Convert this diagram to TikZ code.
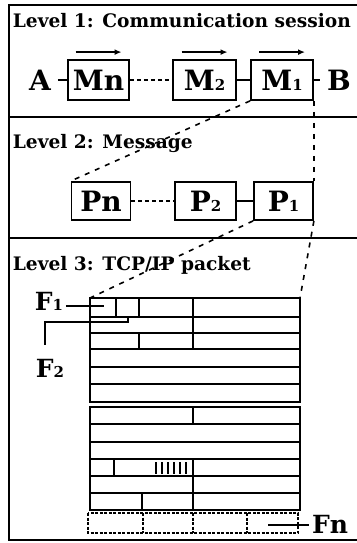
\documentclass[tikz,border=0pt]{standalone}
\usepackage{fontspec}
\setmainfont{DejaVu Serif}
\usetikzlibrary{arrows.meta}
\newcommand\lowidx[1]{{\fontsize{15}{15}\selectfont#1}}
\begin{document}
\begin{tikzpicture}[x=1pt,y=-1pt,font=\bfseries,line width=1.8pt]
\tikzset{lvl/.style={anchor=base west,inner sep=0pt,font=\bfseries\fontsize{18.6}{19}\selectfont},
 msg/.style={draw,line width=1.8pt,minimum width=62pt,minimum height=40pt,inner sep=0pt,font=\bfseries\fontsize{28}{28}\selectfont},
 pkt/.style={msg,minimum width=59pt,minimum height=38pt},
 big/.style={inner xsep=6pt,inner ysep=0pt,font=\bfseries\fontsize{28}{28}\selectfont},
 fld/.style={inner sep=2pt,font=\bfseries\fontsize{25}{25}\selectfont},
 link/.style={line width=1.6pt},
 gap/.style={line width=1.6pt,dash pattern=on 4pt off 3pt},
 zoomline/.style={line width=1.6pt,dash pattern=on 5pt off 6pt},
 dir/.style={line width=1.6pt,-{Latex[length=7pt,width=6pt]}},
 grid/.style={line width=1.8pt},
 tail/.style={line width=1.4pt,dash pattern=on 3pt off 1.5pt}}
\useasboundingbox (0,0) rectangle (356,543);
\draw[line width=1.8pt] (358,5) -- (9,5) -- (9,540) -- (358,540);
\draw[line width=1.8pt] (9,117) -- (358,117) (9,238) -- (358,238);
\node[lvl] (l1) at (12,28) {Level 1: Communication session};
\node[lvl] (l2) at (12,148) {Level 2: Message};
\node[lvl] (l3) at (12,270) {Level 3: TCP/IP packet};
\node[big] (a) at (40,80) {A};
\node[msg,minimum width=61pt] (mn) at (98.5,80) {Mn};
\node[msg,minimum width=63pt] (m2) at (204.5,80) {M\lowidx{2}};
\node[msg] (m1) at (282,80) {M\lowidx{1}};
\node[big] (b) at (339,80) {B};
\foreach \b in {mn,m2,m1} \draw[dir] ([shift={(-23pt,7pt)}]\b.north) -- ([shift={(23pt,7pt)}]\b.north);
\draw[link] (a) -- (mn);
\draw[gap] (mn) -- (m2);
\draw[link] (m2) -- (m1);
\draw[link] (m1) -- (b);
\node[pkt] (pn) at (101,201) {Pn};
\node[pkt,minimum width=61pt] (p2) at (205.5,201) {P\lowidx{2}};
\node[pkt] (p1) at (283.5,201) {P\lowidx{1}};
\draw[gap] (pn) -- (p2);
\draw[link] (p2) -- (p1);
\coordinate (tnw) at (90,298);
\coordinate (tne) at (300,298);
\draw[zoomline] (m1.south west) -- (pn.north west);
\draw[zoomline] (m1.south east) -- (p1.north east);
\draw[zoomline] (p1.south west) -- (tnw);
\draw[zoomline] (p1.south east) -- (tne);
\draw[grid] (tnw) rectangle (300,402);
\foreach \y in {317,333,349,367,384} \draw[grid] (90,\y) -- (300,\y);
\draw[grid] (116,298) -- (116,317) (139,298) -- (139,317) (139,333) -- (139,349) (193,298) -- (193,349);
\draw[grid] (90,407) rectangle (300,510);
\foreach \y in {424,442,459,476,493} \draw[grid] (90,\y) -- (300,\y);
\draw[grid] (193,407) -- (193,424) (114,459) -- (114,476) (193,459) -- (193,510) (142,493) -- (142,510);
\foreach \x in {156,162,...,186} \draw[line width=1.4pt] (\x,462) -- (\x,474);
\draw[tail] (88,513) rectangle (298,533);
\foreach \x in {143,193,247} \draw[tail] (\x,513) -- (\x,533);
\node[fld] (f1) at (49,301) {F\lowidx{1}};
\node[fld] (f2) at (50,368) {F\lowidx{2}};
\node[fld] (fn) at (330,524) {Fn};
\coordinate (f1end) at (104,306);
\coordinate (f2end) at (128,317);
\coordinate (fnend) at (268,525);
\draw[link] (f1.east |- f1end) -- (f1end);
\draw[link] ([shift={(-5pt,11pt)}]f2.north) |- (128,322) -- (f2end);
\draw[link] (fnend) -- (fn.west |- fnend);
\end{tikzpicture}
\end{document}
